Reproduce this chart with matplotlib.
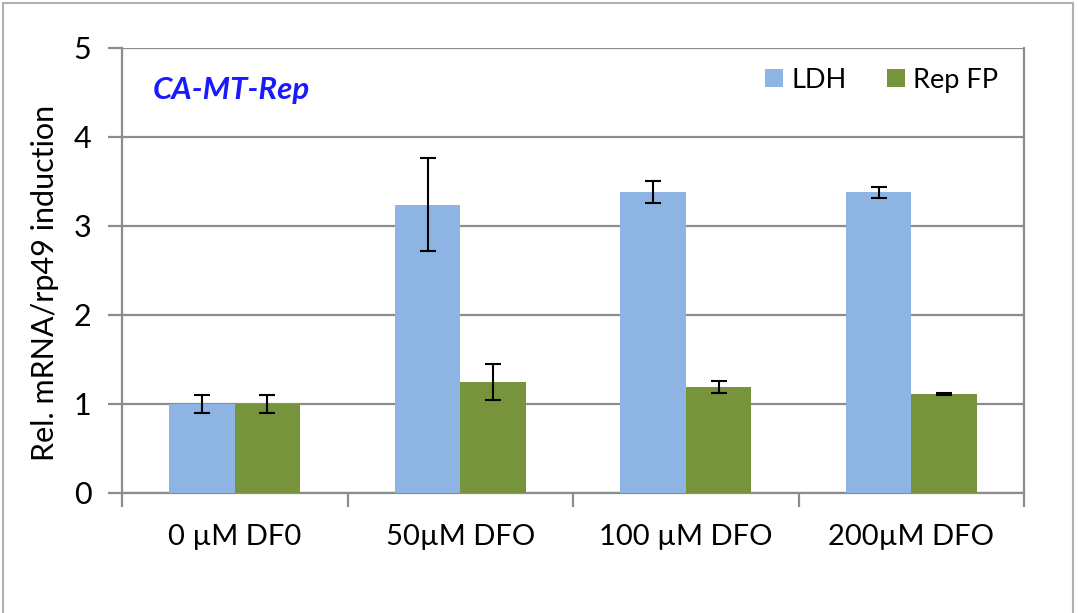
import numpy as np
import matplotlib
matplotlib.use('Agg')
import matplotlib.pyplot as plt
from matplotlib.patches import Rectangle

plt.rcParams['font.family'] = ['Lato', 'DejaVu Sans']

# data
categories = ['0 µM DF0', '50µM DFO', '100 µM DFO', '200µM DFO']
ldh = [1.0, 3.24, 3.38, 3.38]
ldh_err = [0.1, 0.52, 0.12, 0.06]
rep = [1.0, 1.25, 1.19, 1.11]
rep_err = [0.1, 0.2, 0.07, 0.01]
yticks = [0, 1, 2, 3, 4, 5]

grid_col = '#8c8c8c'
fig = plt.figure(figsize=(10.78, 6.13), dpi=100)
ax = fig.add_axes([0.1132, 0.1958, 0.8368, 0.7259])

x = np.arange(len(categories))
w = 0.29
ax.bar(x - w/2, ldh, w, color='#8db4e2', label='LDH', zorder=3)
ax.bar(x + w/2, rep, w, color='#77933c', label='Rep FP', zorder=3)
ax.errorbar(x - w/2, ldh, yerr=ldh_err, fmt='none', ecolor='black',
            elinewidth=1.5, capsize=5.5, capthick=1.5, zorder=4)
ax.errorbar(x + w/2, rep, yerr=rep_err, fmt='none', ecolor='black',
            elinewidth=1.5, capsize=5.5, capthick=1.5, zorder=4)

ax.set_xlim(-0.5, len(categories) - 0.5)
ax.set_ylim(0, 5)
ax.set_yticks(yticks)
ax.yaxis.grid(True, color=grid_col, linewidth=1.6, zorder=0)
ax.set_axisbelow(True)

# ticks at category boundaries, labels at centres
ax.set_xticks(np.arange(len(categories) + 1) - 0.5)
ax.set_xticklabels([])
ax.set_xticks(x, minor=True)
ax.set_xticklabels(categories, minor=True, fontsize=21)
ax.tick_params(axis='x', which='major', length=10, width=1.6, color=grid_col, direction='out')
ax.tick_params(axis='x', which='minor', length=0, pad=22)
ax.tick_params(axis='y', length=10, width=1.6, color=grid_col, direction='out',
               labelsize=22, pad=12)

for s in ['left', 'bottom', 'right']:
    ax.spines[s].set_color(grid_col)
    ax.spines[s].set_linewidth(1.6)
ax.spines['top'].set_visible(False)

ax.set_ylabel('Rel. mRNA/rp49 induction', fontsize=22, va='center')
ax.yaxis.set_label_coords(-0.085, 0.472)

ax.text(0.034, 0.905, 'CA-MT-Rep', transform=ax.transAxes, color='#1a1aff',
        fontsize=22.5, fontweight='bold', fontstyle='italic', va='center')

leg = ax.legend(loc='upper right', bbox_to_anchor=(0.998, 1.01), ncol=2, frameon=False,
                fontsize=19.5, handlelength=0.65, handleheight=0.65,
                handletextpad=0.3, columnspacing=1.5)

# outer chart frame
fig.patches.append(Rectangle((0.003, -0.05), 0.992, 1.045, transform=fig.transFigure,
                             fill=False, edgecolor='#b0b0b0', linewidth=1.5))

fig.savefig('out.png', dpi=100)
